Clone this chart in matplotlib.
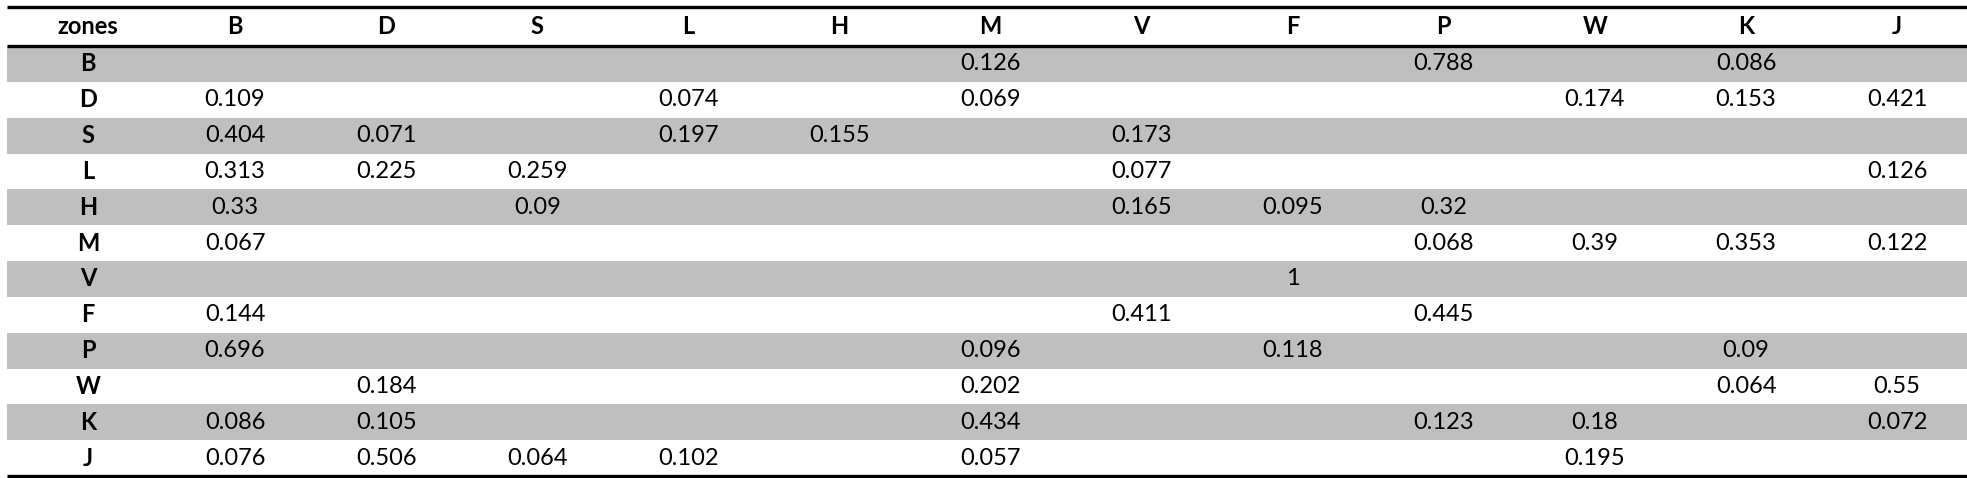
import matplotlib
matplotlib.use("Agg")
import matplotlib.pyplot as plt

# --- DATA ---
zones = ["B", "D", "S", "L", "H", "M", "V", "F", "P", "W", "K", "J"]
row_B = {"M": "0.126", "P": "0.788", "K": "0.086"}
row_D = {"B": "0.109", "L": "0.074", "M": "0.069", "W": "0.174", "K": "0.153", "J": "0.421"}
row_S = {"B": "0.404", "D": "0.071", "L": "0.197", "H": "0.155", "V": "0.173"}
row_L = {"B": "0.313", "D": "0.225", "S": "0.259", "V": "0.077", "J": "0.126"}
row_H = {"B": "0.33", "S": "0.09", "V": "0.165", "F": "0.095", "P": "0.32"}
row_M = {"B": "0.067", "P": "0.068", "W": "0.39", "K": "0.353", "J": "0.122"}
row_V = {"F": "1"}
row_F = {"B": "0.144", "V": "0.411", "P": "0.445"}
row_P = {"B": "0.696", "M": "0.096", "F": "0.118", "K": "0.09"}
row_W = {"D": "0.184", "M": "0.202", "K": "0.064", "J": "0.55"}
row_K = {"B": "0.086", "D": "0.105", "M": "0.434", "P": "0.123", "W": "0.18", "J": "0.072"}
row_J = {"B": "0.076", "D": "0.506", "S": "0.064", "L": "0.102", "M": "0.057", "W": "0.195"}
rows = [row_B, row_D, row_S, row_L, row_H, row_M, row_V, row_F, row_P, row_W, row_K, row_J]

# --- LAYOUT (pixels) ---
W, H = 1967, 478
left, right = 7, 1967
top_line, head_line, bottom_line = 7, 46, 476
label_x = 88
col_x0, col_step = 235, 151.1
row_h = (bottom_line - head_line) / len(zones)
font = ["Lato", "DejaVu Sans"]
fs = 17

fig = plt.figure(figsize=(W / 100, H / 100), dpi=100)
ax = fig.add_axes([0, 0, 1, 1])
ax.set_xlim(0, W)
ax.set_ylim(H, 0)
ax.axis("off")

# header
ax.text(label_x, (top_line + head_line) / 2, "zones", ha="center", va="center",
        fontsize=fs, fontweight="bold", family=font)
for j, z in enumerate(zones):
    ax.text(col_x0 + j * col_step, (top_line + head_line) / 2, z, ha="center", va="center",
            fontsize=fs, fontweight="bold", family=font)

# body
for i, (z, row) in enumerate(zip(zones, rows)):
    y0 = head_line + i * row_h
    yc = y0 + row_h / 2
    if i % 2 == 0:
        ax.fill_between([left, right], y0, y0 + row_h, color="#bfbfbf", lw=0)
    ax.text(label_x, yc, z, ha="center", va="center", fontsize=fs, fontweight="bold", family=font)
    for j, c in enumerate(zones):
        if c in row:
            ax.text(col_x0 + j * col_step, yc, row[c], ha="center", va="center",
                    fontsize=fs, family=font)

for y in (top_line, head_line, bottom_line):
    ax.plot([left, right], [y, y], color="black", lw=2.4, solid_capstyle="butt")

fig.savefig("out.png", dpi=100)
